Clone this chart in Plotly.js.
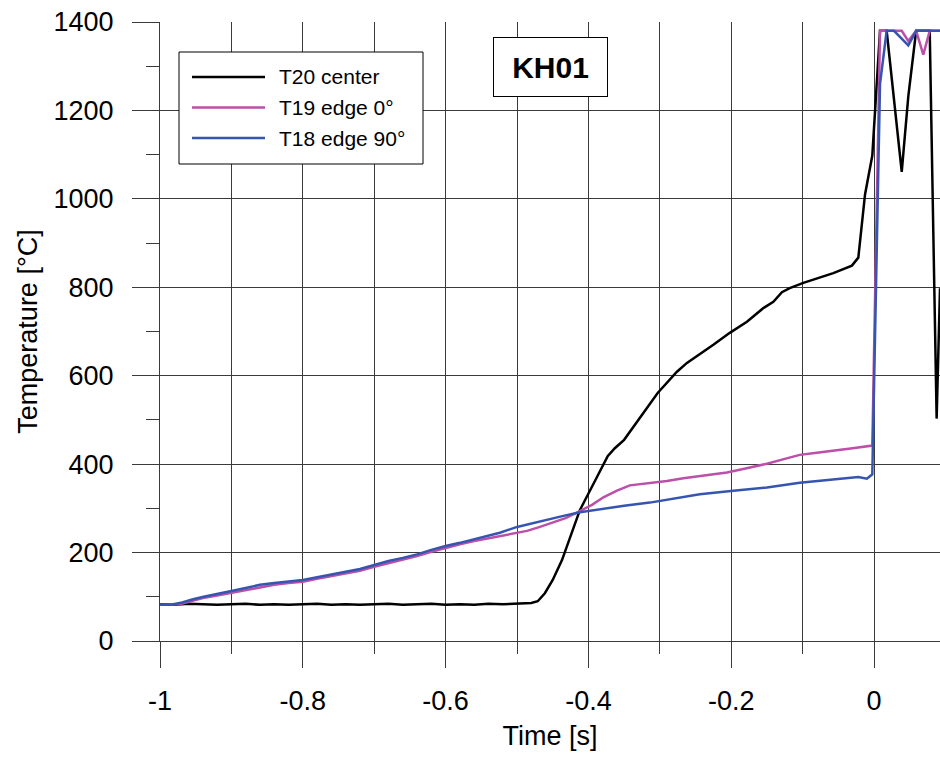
<!DOCTYPE html>
<html>
<head>
<meta charset="utf-8">
<script src="https://cdn.plot.ly/plotly-3.0.1.min.js"></script>
<style>html,body{margin:0;padding:0;background:#fff;}#chart{width:940px;height:758px;}</style>
</head>
<body>
<div id="chart"></div>
<script>
// ---- Data ----
const seriesNames = ["T20 center", "T19 edge 0°", "T18 edge 90°"];

const timeT20 = [-1.00,-0.98,-0.96,-0.94,-0.92,-0.90,-0.88,-0.86,-0.84,-0.82,-0.80,-0.78,-0.76,-0.74,-0.72,-0.70,-0.68,-0.66,-0.64,-0.62,-0.60,-0.58,-0.56,-0.54,-0.52,-0.50,-0.49,-0.48,-0.471,-0.461,-0.45,-0.437,-0.412,-0.402,-0.388,-0.373,-0.363,-0.35,-0.328,-0.303,-0.276,-0.262,-0.225,-0.202,-0.178,-0.155,-0.141,-0.129,-0.118,-0.099,-0.057,-0.031,-0.022,-0.0126,-0.0024,0.0084,0.0177,0.0388,0.048,0.059,0.078,0.0877,0.0924];
const tempT20 = [83,82,84,83,82,83,84,82,83,82,83,84,82,83,82,83,84,82,83,84,82,83,82,84,83,84,84,86,90,108,138,183,296,326,371,418,436,455,504,561,609,629,670,697,722,753,767,789,798,810,832,849,867,1010,1098,1380,1380,1061,1232,1380,1380,503,798];

const timeT19 = [-1.00,-0.985,-0.97,-0.955,-0.94,-0.92,-0.90,-0.88,-0.86,-0.84,-0.82,-0.80,-0.78,-0.76,-0.74,-0.72,-0.70,-0.68,-0.66,-0.64,-0.62,-0.60,-0.58,-0.56,-0.54,-0.524,-0.505,-0.486,-0.47,-0.454,-0.432,-0.412,-0.395,-0.379,-0.36,-0.342,-0.325,-0.309,-0.29,-0.267,-0.24,-0.206,-0.18,-0.15,-0.125,-0.104,-0.08,-0.057,-0.03,-0.0024,0.0084,0.0388,0.048,0.059,0.069,0.078,0.0924];
const tempT19 = [82,82,84,90,97,103,109,115,122,127,131,134,141,147,152,159,168,176,184,192,202,211,219,226,232,238,244,249,257,266,278,294,308,325,340,352,355,358,362,368,374,381,390,401,412,421,426,430,436,442,1380,1380,1357,1380,1326,1380,1380];

const timeT18 = [-1.00,-0.985,-0.969,-0.955,-0.939,-0.92,-0.90,-0.88,-0.86,-0.84,-0.82,-0.80,-0.78,-0.76,-0.743,-0.72,-0.70,-0.68,-0.66,-0.64,-0.62,-0.60,-0.58,-0.56,-0.54,-0.524,-0.50,-0.48,-0.458,-0.435,-0.412,-0.384,-0.35,-0.314,-0.28,-0.244,-0.197,-0.15,-0.104,-0.057,-0.022,-0.01,-0.0024,0.0084,0.0177,0.028,0.048,0.059,0.0924];
const tempT18 = [82,82,87,94,100,107,113,120,127,131,134,138,144,150,155,163,172,181,188,196,206,215,222,230,238,245,258,266,275,283,291,298,306,313,322,332,340,347,358,366,371,367,377,1260,1380,1380,1347,1380,1380];

const xTickVals = [-1,-0.8,-0.6,-0.4,-0.2,0];
const xTickText = ["-1","-0.8","-0.6","-0.4","-0.2","0"];
const yTickVals = [0,200,400,600,800,1000,1200,1400];
const yTickText = ["0","200","400","600","800","1000","1200","1400"];
const chartLabel = "KH01";

// ---- Styling ----
const FONT = "Liberation Sans, Arial, sans-serif";
const GRID = "#3a3a3a";
const colors = ["#000000", "#bb4fa9", "#3555b0"];
const W = 940, H = 758, ML = 160, MR = 0, MT = 22, MB = 117;
const PW = W - ML - MR, PH = H - MT - MB;
const px2x = p => (p - ML) / PW;          // pixel -> paper x
const px2y = p => (H - MB - p) / PH;      // pixel -> paper y

const traces = [
  {x: timeT20, y: tempT20, name: seriesNames[0]},
  {x: timeT19, y: tempT19, name: seriesNames[1]},
  {x: timeT18, y: tempT18, name: seriesNames[2]}
].map((t, i) => Object.assign(t, {
  type: "scatter", mode: "lines",
  line: {color: colors[i], width: 2.5}
}));

// Legend drawn as box + sample lines + labels (long sample lines as in reference)
const legendBox = {x0: 179, x1: 423, y0: 52, y1: 164};
const legendRows = [77, 107.5, 138];
const shapes = [{
  type: "rect", xref: "paper", yref: "paper",
  x0: px2x(legendBox.x0), x1: px2x(legendBox.x1),
  y0: px2y(legendBox.y1), y1: px2y(legendBox.y0),
  line: {color: "#000", width: 1}, fillcolor: "#fff", layer: "above"
}];
const annotations = [];
seriesNames.forEach((name, i) => {
  shapes.push({
    type: "line", xref: "paper", yref: "paper",
    x0: px2x(192), x1: px2x(265), y0: px2y(legendRows[i]), y1: px2y(legendRows[i]),
    line: {color: colors[i], width: 2.5}, layer: "above"
  });
  annotations.push({
    xref: "paper", yref: "paper", x: px2x(277), y: px2y(legendRows[i]),
    xanchor: "left", yanchor: "middle", showarrow: false,
    text: name, font: {family: FONT, size: 21, color: "#000"}
  });
});
annotations.push({
  xref: "paper", yref: "paper", x: px2x(550.5), y: px2y(67),
  xanchor: "center", yanchor: "middle",
  text: "<b>" + chartLabel + "</b>", showarrow: false,
  font: {family: FONT, size: 30, color: "#000"},
  bgcolor: "#fff", bordercolor: "#000", borderwidth: 1,
  width: 113, height: 58, borderpad: 0
});

const layout = {
  width: W, height: H,
  margin: {l: ML, r: MR, t: MT, b: MB},
  paper_bgcolor: "#fff", plot_bgcolor: "#fff",
  font: {family: FONT, color: "#000", size: 27},
  showlegend: false,
  xaxis: {
    range: [-1, 0.0924],
    tickmode: "array", tickvals: xTickVals, ticktext: xTickText,
    ticks: "outside", ticklen: 26, tickwidth: 1, tickcolor: GRID,
    showgrid: true, gridcolor: GRID, gridwidth: 1,
    zeroline: false, showline: true, linecolor: GRID, linewidth: 1,
    minor: {tickmode: "linear", tick0: 0, dtick: 0.1, ticks: "outside", ticklen: 12, tickcolor: GRID, showgrid: true, gridcolor: GRID, gridwidth: 1},
    tickfont: {family: FONT, size: 27},
    ticklabelstandoff: 10,
    title: {text: "Time [s]", font: {family: FONT, size: 27}, standoff: 10}
  },
  yaxis: {
    range: [0, 1400],
    tickmode: "array", tickvals: yTickVals, ticktext: yTickText,
    ticks: "outside", ticklen: 27, tickwidth: 1, tickcolor: GRID,
    showgrid: true, gridcolor: GRID, gridwidth: 1,
    zeroline: false, showline: true, linecolor: GRID, linewidth: 1,
    minor: {tickmode: "linear", tick0: 0, dtick: 100, ticks: "outside", ticklen: 13, tickcolor: GRID, showgrid: false},
    tickfont: {family: FONT, size: 27},
    ticklabelstandoff: 13,
    title: {text: "Temperature [°C]", font: {family: FONT, size: 27}, standoff: 8}
  },
  shapes: shapes,
  annotations: annotations
};

Plotly.newPlot("chart", traces, layout, {displayModeBar: false, staticPlot: true});
</script>
</body>
</html>
